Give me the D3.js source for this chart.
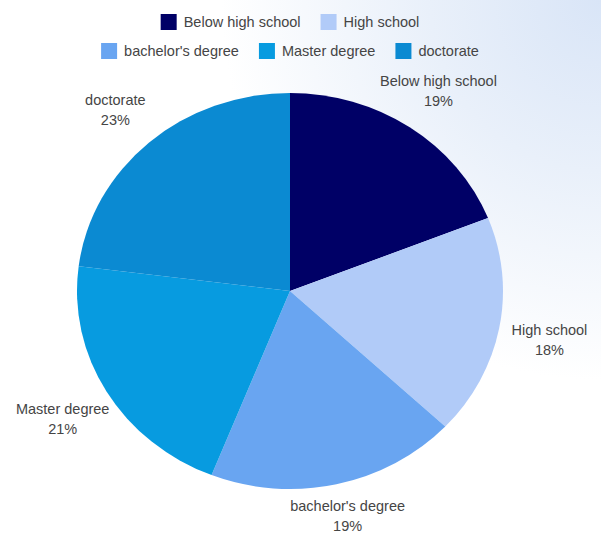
<!DOCTYPE html>
<html>
<head>
<meta charset="utf-8">
<script src="https://cdn.jsdelivr.net/npm/d3@7"></script>
<style>
  html, body { margin: 0; padding: 0; background: #fff; }
  svg { display: block; }
  text { font-family: "Liberation Sans", Arial, sans-serif; fill: #454545; }
</style>
</head>
<body>
<script>
// Education level shares (percent)
const categories = ["Below high school", "High school", "bachelor's degree", "Master degree", "doctorate"];
const shares = [19, 18, 19, 21, 23];
const colors = ["#000066", "#b1cbf8", "#69a5f1", "#079be0", "#0b8ad2"];

const W = 601, H = 534;
const cx = 290, cy = 291;
const rx = 213, ry = 198;          // pie is drawn slightly wider than tall
const sx = rx / ry;
const labelFactor = 1.24;
const labelShift = 3;
const fontSize = 14.5;

const svg = d3.select("body").append("svg")
  .attr("width", W).attr("height", H);

// soft blue wash in the upper-right corner
const defs = svg.append("defs");
const grad = defs.append("radialGradient")
  .attr("id", "bgwash")
  .attr("gradientUnits", "userSpaceOnUse")
  .attr("cx", W).attr("cy", 0).attr("r", 380);
grad.append("stop").attr("offset", "0").attr("stop-color", "#d9e5f7");
grad.append("stop").attr("offset", "0.45").attr("stop-color", "#e9f0fa");
grad.append("stop").attr("offset", "1").attr("stop-color", "#ffffff");
svg.append("rect").attr("width", W).attr("height", H).attr("fill", "url(#bgwash)");

const color = d3.scaleOrdinal().domain(categories).range(colors);

const data = categories.map((c, i) => ({ name: c, value: shares[i] }));
const pie = d3.pie().value(d => d.value).sort(null);
const arcs = pie(data);

const arc = d3.arc().innerRadius(0).outerRadius(ry);
const labelArc = d3.arc().innerRadius(ry * labelFactor).outerRadius(ry * labelFactor);

// slices
const pieG = svg.append("g")
  .attr("transform", `translate(${cx},${cy}) scale(${sx},1)`);
pieG.selectAll("path")
  .data(arcs)
  .join("path")
  .attr("d", arc)
  .attr("fill", d => color(d.data.name));

// slice labels: name + percent, placed outside each slice
const total = d3.sum(shares);
const labelG = svg.append("g");
arcs.forEach(d => {
  const [lx, ly] = labelArc.centroid(d);
  const x = cx + lx * sx;
  const y = Math.min(cy + ly + labelShift, H - 18);
  const t = labelG.append("text")
    .attr("text-anchor", "middle")
    .attr("font-size", fontSize);
  t.append("tspan").attr("x", x).attr("y", y - 10 + 5).text(d.data.name);
  t.append("tspan").attr("x", x).attr("y", y + 10 + 5)
    .text(Math.round(d.data.value / total * 100) + "%");
});

// legend: two centred rows
const legendRows = [categories.slice(0, 2), categories.slice(2)];
const rowY = [22, 51];
const box = 16, pad = 7, gap = 20;
const legendCenter = 290;
const legendG = svg.append("g");
legendRows.forEach((row, r) => {
  const g = legendG.append("g");
  let x = 0;
  row.forEach(name => {
    g.append("rect")
      .attr("x", x).attr("y", rowY[r] - box / 2)
      .attr("width", box).attr("height", box)
      .attr("fill", color(name));
    const t = g.append("text")
      .attr("x", x + box + pad).attr("y", rowY[r] + 5)
      .attr("font-size", fontSize)
      .text(name);
    x += box + pad + t.node().getComputedTextLength() + gap;
  });
  const width = x - gap;
  g.attr("transform", `translate(${legendCenter - width / 2},0)`);
});
</script>
</body>
</html>
